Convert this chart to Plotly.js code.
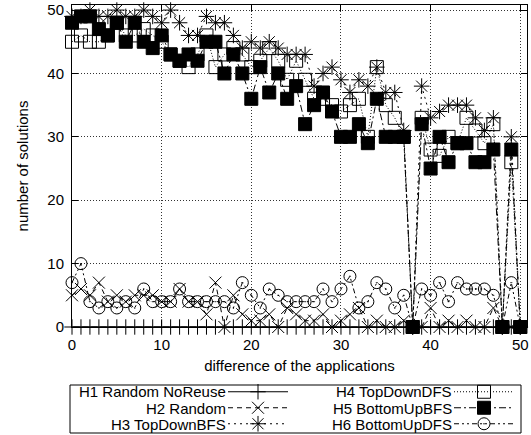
<!DOCTYPE html>
<html><head><meta charset="utf-8">
<script src="https://cdn.plot.ly/plotly-3.0.1.min.js"></script>
<style>html,body{margin:0;padding:0;background:#fff}#chart{width:531px;height:435px}</style>
</head><body><div id="chart"></div>
<script>
const difference = [0,1,2,3,4,5,6,7,8,9,10,11,12,13,14,15,16,17,18,19,20,21,22,23,24,25,26,27,28,29,30,31,32,33,34,35,36,37,38,39,40,41,42,43,44,45,46,47,48,49,50];
const h1RandomNoReuse = [0,0,0,0,0,0,0,0,0,0,0,0,0,0,0,0,0,0,0,0,0,0,0,0,0,0,0,0,0,0,0,0,0,0,0,0,0,0,0,0,0,0,0,0,0,0,0,0,0,0,0];
const h2Random = [5,6,5,7,4,5,4,5,5,5,4,4,6,4,4,2,7,0,5,2,1,1,2,0,3,2,1,1,2,0,1,2,3,0,1,0,0,1,0,0,3,0,1,0,1,0,0,3,0,0,0];
const h3TopDownBFS = [49,49,50,49,49,50,49,49,50,49,48,50,48,46,46,49,48,48,46,44,45,44,45,44,43,43,43,38,40,41,39,37,39,38,41,37,37,31,0,38,33,34,35,35,35,33,31,33,0,30,0];
const h4TopDownDFS = [45,46,45,45,46,48,46,46,47,46,45,43,42,41,43,46,41,43,44,43,41,42,44,42,39,42,39,36,36,35,34,35,36,30,41,35,33,30,0,33,28,27,30,29,33,31,29,32,0,26,0];
const h5BottomUpBFS = [48,49,49,47,46,48,45,48,45,44,46,43,42,43,42,45,45,40,43,40,36,41,37,40,36,38,32,35,37,34,30,30,32,29,36,30,30,30,0,32,25,30,26,29,29,26,26,28,0,28,0];
const h6BottomUpDFS = [7,10,4,3,4,3,4,3,6,4,4,4,6,4,4,4,4,4,3,7,5,3,6,5,4,4,4,4,6,4,6,8,3,4,7,6,3,5,0,6,5,7,4,7,6,6,6,5,0,7,0];
const seriesNames = ['H1 Random NoReuse','H2 Random','H3 TopDownBFS','H4 TopDownDFS','H5 BottomUpBFS','H6 BottomUpDFS'];
const xTicks = [0,10,20,30,40,50];
const yTicks = [0,10,20,30,40,50];

const FONT = 'Liberation Sans, Arial, Helvetica, sans-serif';
const PL = 72, PR = 527, PT = 5, PB = 327;
const px2x = p => (p - PL) / (PR - PL);
const py2y = p => (PB - p) / (PB - PT);
const colTextRight = [228, 454];
const colSymLeft = [223, 449];
const rowCenter = [392, 408, 424];

function tr(i, y, dash, symbol, size) {
  return {
    x: difference, y: y, name: ' ', type: 'scatter', mode: 'lines+markers',
    cliponaxis: false, showlegend: true, legend: i === 0 ? 'legend' : 'legend' + (i + 1),
    line: {color: '#000', width: 1, dash: dash},
    marker: {symbol: symbol, size: size, color: '#000', line: {color: '#000', width: 1}}
  };
}
const data = [
  tr(0, h1RandomNoReuse, 'solid', 'cross-thin-open', 11),
  tr(1, h2Random, '5px,4px', 'x-thin-open', 12),
  tr(2, h3TopDownBFS, '2px,4px', 'asterisk-open', 13),
  tr(3, h4TopDownDFS, '1px,2px', 'square-open', 13),
  tr(4, h5BottomUpBFS, '7px,3px,2px,3px', 'square', 13),
  tr(5, h6BottomUpDFS, '5px,3px,2px,3px,2px,3px', 'circle-open-dot', 12)
];
const axisCommon = {
  showline: true, linecolor: '#000', linewidth: 1, mirror: 'allticks',
  ticks: 'inside', ticklen: 6, tickcolor: '#000', tickwidth: 1,
  showgrid: true, gridcolor: '#333', griddash: '1px,2px', gridwidth: 1,
  zeroline: false, tickfont: {family: FONT, size: 15, color: '#000'}
};
const layout = {
  width: 531, height: 435,
  margin: {l: PL, r: 531 - PR, t: PT, b: 435 - PB, autoexpand: false},
  paper_bgcolor: '#fff', plot_bgcolor: '#fff',
  font: {family: FONT, size: 15, color: '#000'},
  xaxis: Object.assign({}, axisCommon, {
    range: [0, 50.75], tickvals: xTicks, ticktext: xTicks.map(String),
    ticklabelstandoff: 4,
    title: {text: 'difference of the applications', font: {family: FONT, size: 15}, standoff: 8}
  }),
  yaxis: Object.assign({}, axisCommon, {
    range: [0, 50.8], tickvals: yTicks, ticktext: yTicks.map(String),
    ticklabelstandoff: 4,
    title: {text: 'number of solutions', font: {family: FONT, size: 15}, standoff: 15}
  }),
  showlegend: true,
  annotations: [],
  shapes: [{
    type: 'rect', xref: 'paper', yref: 'paper',
    x0: px2x(70), x1: px2x(521), y0: py2y(433), y1: py2y(385),
    line: {color: '#000', width: 1}, fillcolor: 'rgba(0,0,0,0)'
  }]
};
seriesNames.forEach((nm, i) => {
  const col = i < 3 ? 0 : 1, row = i % 3;
  layout.annotations.push({
    text: nm, xref: 'paper', yref: 'paper', x: px2x(colTextRight[col]), y: py2y(rowCenter[row]),
    xanchor: 'right', yanchor: 'middle', showarrow: false,
    font: {family: FONT, size: 15, color: '#000'}
  });
  const key = i === 0 ? 'legend' : 'legend' + (i + 1);
  layout[key] = {
    x: px2x(colSymLeft[col]), xanchor: 'left', y: py2y(rowCenter[row]), yanchor: 'middle',
    bgcolor: 'rgba(0,0,0,0)', borderwidth: 0, itemwidth: 60,
    font: {family: FONT, size: 15, color: '#000'}
  };
});
Plotly.newPlot('chart', data, layout, {staticPlot: true, displayModeBar: false});
</script></body></html>
